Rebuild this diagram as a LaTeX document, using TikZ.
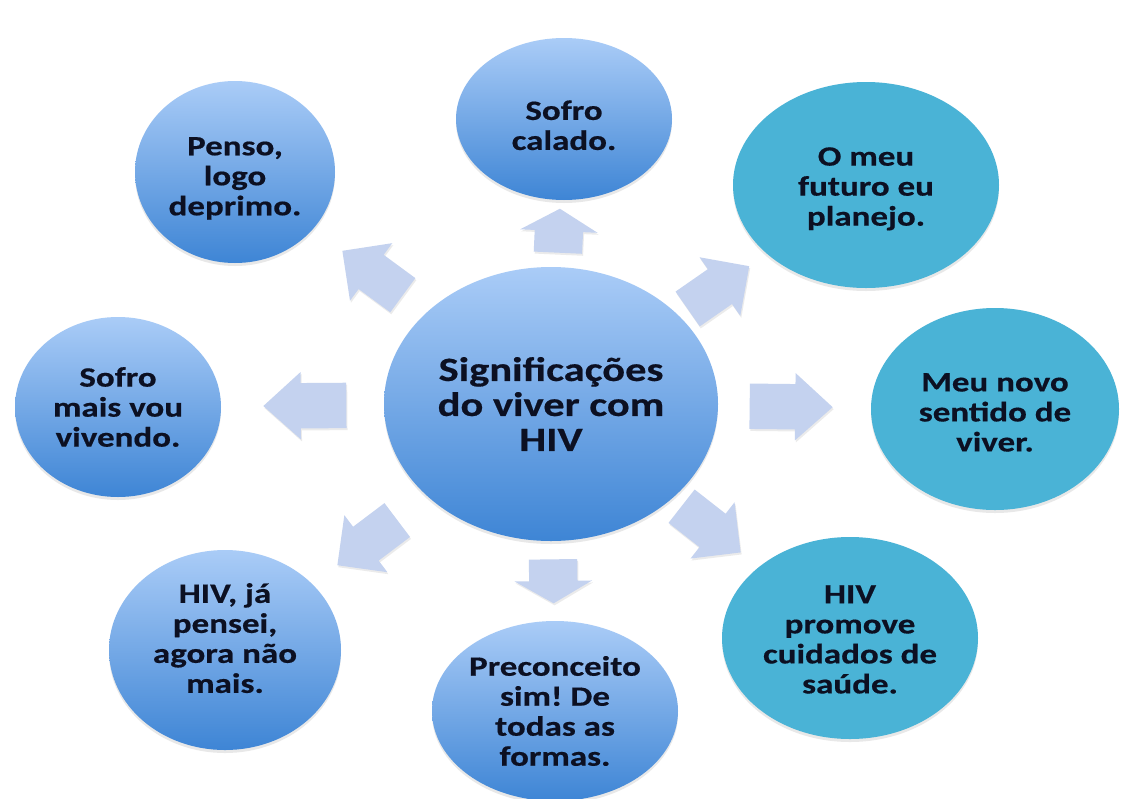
\documentclass[tikz,border=0pt]{standalone}
\usepackage{fontspec}
\newfontfamily\sigfont{Carlito}[FakeStretch=1.25, BoldFeatures={FakeBold=0.5}]
\usepackage{tikz}
\usetikzlibrary{shapes.geometric, shapes.arrows, shadows}

\definecolor{blueTop}{RGB}{170,204,247}
\definecolor{blueBot}{RGB}{62,133,213}
\definecolor{teal}{RGB}{74,179,214}
\definecolor{arrowFill}{RGB}{196,210,239}
\definecolor{ink}{RGB}{12,16,34}

\begin{document}
\begin{tikzpicture}[x=1pt, y=-1pt]
		\tikzstyle{main} = [ellipse, inner sep=0pt, align=center, text=ink, font=\sigfont\bfseries\frenchspacing\fontsize{28}{30}\selectfont, drop shadow={shadow xshift=0pt, shadow yshift=-3pt, opacity=0.15, fill=black!60}]
		\tikzstyle{gblue} = [main, top color=blueTop, bottom color=blueBot]
		\tikzstyle{gteal} = [main, fill=teal]
		\tikzstyle{flow} = [single arrow, draw=none, fill=arrowFill, inner xsep=0pt, single arrow head indent=0pt, anchor=tip, sloped, allow upside down, drop shadow={shadow xshift=1pt, shadow yshift=-2pt, opacity=0.08, fill=black}]
		\tikzstyle{flowv} = [flow, minimum height=44pt, inner ysep=24pt, single arrow head extend=14.5pt, single arrow tip angle=120]
		\tikzstyle{flowh} = [flow, minimum height=83pt, inner ysep=22.5pt, single arrow head extend=11pt, single arrow tip angle=84]
		\tikzstyle{flowd} = [flow, minimum height=75pt, inner ysep=21pt, single arrow head extend=14.5pt, single arrow tip angle=90]
		\path[use as bounding box, fill=white] (0,0) rectangle (1121,798);
		
		\node[gblue, minimum width=334pt, minimum height=274pt, font=\sigfont\bfseries\fontsize{34}{35}\selectfont] at (551,404) (core) {Significações\\do viver com\\HIV};
		
		\node[gblue, minimum width=216pt, minimum height=162pt, text height=62pt] at (564,119) (calado) {Sofro\\calado.};
		\node[gblue, minimum width=200pt, minimum height=182pt, text height=91pt] at (235,172) (penso) {Penso,\\logo\\deprimo.};
		\node[gteal, minimum width=266pt, minimum height=206pt, text height=86pt] at (866,185) (futuro) {O meu\\futuro eu\\planejo.};
		\node[gblue, minimum width=206pt, minimum height=180pt] at (118,407) (vivendo) {Sofro\\mais vou\\vivendo.};
		\node[gteal, minimum width=248pt, minimum height=202pt, text height=85pt] at (995,409) (novo) {Meu novo\\sentido de\\viver.};
		\node[gteal, minimum width=256pt, minimum height=202pt, text height=111pt] at (850,638) (promove) {HIV\\promove\\cuidados de\\saúde.};
		\node[gblue, minimum width=246pt, minimum height=180pt] at (555,711) (preconceito) {Preconceito\\sim! De\\todas as\\formas.};
		\node[gblue, minimum width=232pt, minimum height=200pt, text depth=24pt] at (225,650) (pensei) {HIV, já\\pensei,\\agora não\\mais.};
		
		\path (core.center) -- (calado.center) node[flowv, pos=0.686] (a1) {};
		\path (core.center) -- (penso.center) node[flowd, pos=0.661] (a2) {};
		\path (core.center) -- (futuro.center) node[flowd, pos=0.63] (a3) {};
		\path (core.center) -- (vivendo.center) node[flowh, pos=0.665] (a4) {};
		\path (core.center) -- (novo.center) node[flowh, pos=0.635] (a5) {};
		\path (core.center) -- (pensei.center) node[flowd, pos=0.656] (a6) {};
		\path (core.center) -- (preconceito.center) node[flowv, pos=0.65] (a7) {};
		\path (core.center) -- (promove.center) node[flowd, pos=0.635] (a8) {};
\end{tikzpicture}
\end{document}
